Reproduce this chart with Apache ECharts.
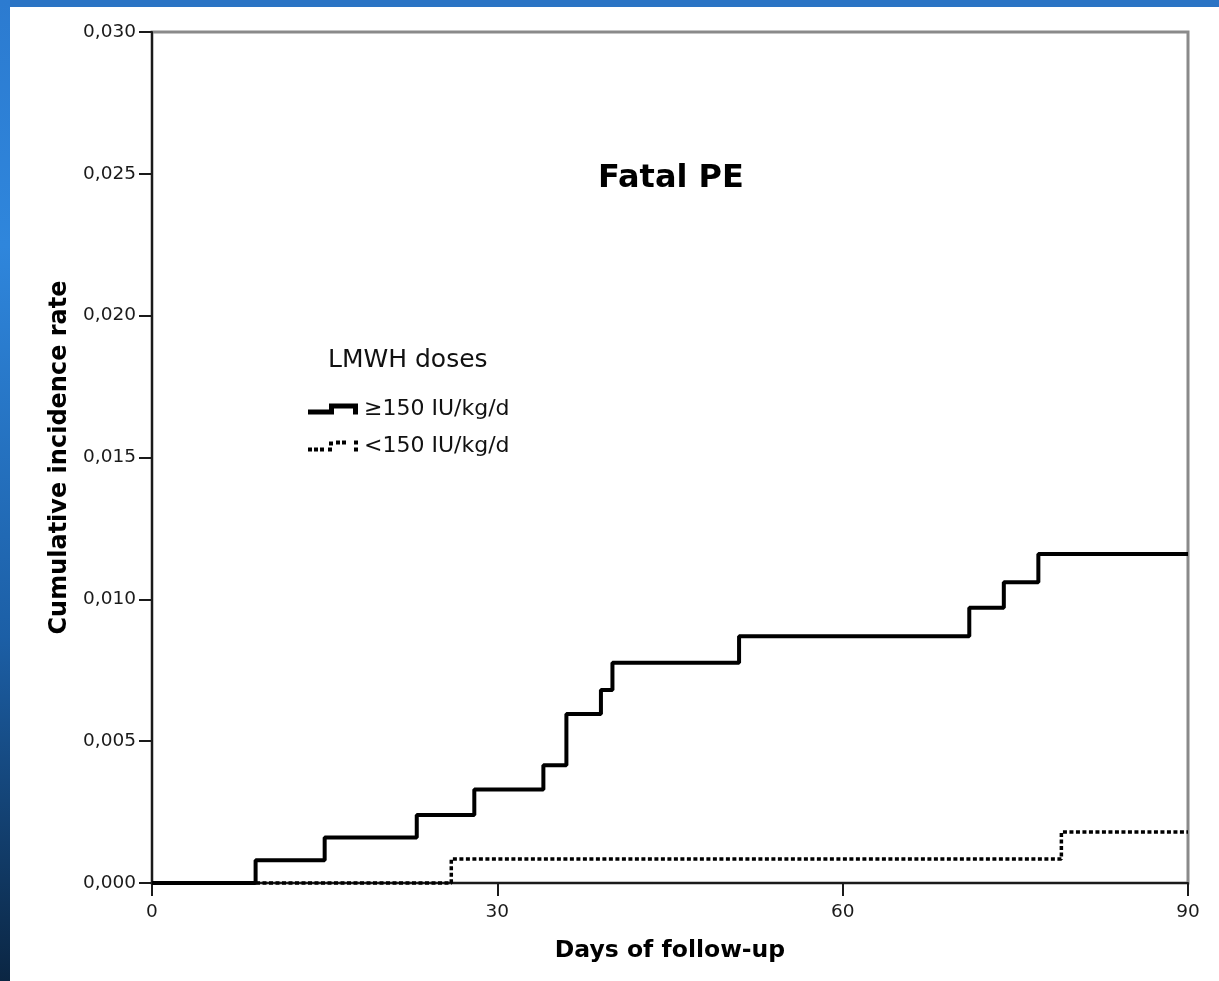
<!DOCTYPE html>
<html lang="en">
<head>
    <meta charset="UTF-8">
    <title>Fatal PE</title>
    <script src="https://cdn.jsdelivr.net/npm/echarts@6/dist/echarts.min.js"></script>
    <style>
        body { padding: 0; margin: 0; background: #fff; }
        #chart { position: absolute; left: 0; top: 0; width: 1219px; height: 981px; }
        .frame-top { position: absolute; left: 0; top: 0; width: 1219px; height: 7px; background: #2b74c4; }
        .frame-left { position: absolute; left: 0; top: 0; width: 10px; height: 981px;
            background: linear-gradient(to bottom, #2c7bd0 0%, #2f86dc 25%, #1c5fa6 65%, #0b2643 100%); }
    </style>
</head>
<body>
    <div id="chart"></div>
    <div class="frame-top"></div>
    <div class="frame-left"></div>

    <script>
        // days of follow-up where the step happens, and the rate after it
        const highDoseDays = [0, 9, 15, 23, 28, 34, 36, 39, 40, 51, 71, 74, 77, 90];
        const highDoseRates = [0, 0.0008, 0.0016, 0.0024, 0.0033, 0.00415, 0.00596, 0.0068, 0.00776, 0.0087, 0.0097, 0.0106, 0.0116, 0.0116];
        const lowDoseDays = [0, 26, 79, 90];
        const lowDoseRates = [0, 0.00085, 0.0018, 0.0018];

        const seriesNames = ['\u2265150 IU/kg/d', '<150 IU/kg/d'];
        const xTicks = [0, 30, 60, 90];

        const solidIcon = 'path://M0 6H21V0H50V11H45V5H26V11H0Z';
        const dottedIcon = 'path://M0 7h4v4h-4z M6 7h4v4h-4z M12 7h4v4h-4z M20 7h4v4h-4z M21 1h4v4h-4z M28 0h4v4h-4z M34 0h4v4h-4z M46 0h4v4h-4z M46 7h4v4h-4z';

        const pairs = (xs, ys) => xs.map((x, i) => [x, ys[i]]);
        const font = 'DejaVu Sans';

        const chart = echarts.init(document.getElementById('chart'));
        chart.setOption({
            animation: false,
            title: [
                { text: 'Fatal PE', left: 598, top: 163, padding: 0,
                  textStyle: { fontFamily: font, fontWeight: 'bold', fontSize: 32, color: '#000' } },
                { text: 'LMWH doses', left: 328, top: 348, padding: 0,
                  textStyle: { fontFamily: font, fontWeight: 'normal', fontSize: 25, color: '#111' } }
            ],
            legend: {
                orient: 'vertical', left: 308, top: 398, padding: 0,
                itemWidth: 50, itemHeight: 11, itemGap: 15,
                itemStyle: { borderWidth: 0 },
                textStyle: { fontFamily: font, fontSize: 22, color: '#111', padding: [0, 0, 0, 1] },
                data: [
                    { name: seriesNames[0], icon: solidIcon },
                    { name: seriesNames[1], icon: dottedIcon }
                ]
            },
            grid: {
                left: 152, right: 31, top: 32, bottom: 98,
                show: true, borderColor: '#8a8a8a', borderWidth: 3
            },
            xAxis: {
                type: 'value', min: xTicks[0], max: xTicks[xTicks.length - 1], interval: 30,
                name: 'Days of follow-up', nameLocation: 'middle', nameGap: 56,
                nameTextStyle: { fontFamily: font, fontWeight: 'bold', fontSize: 23.5, color: '#000' },
                axisLine: { lineStyle: { color: '#1a1a1a', width: 2 } },
                axisTick: { show: true, length: 13, lineStyle: { color: '#1a1a1a', width: 2 } },
                axisLabel: { margin: 20, fontFamily: font, fontSize: 18.5, color: '#1a1a1a' },
                splitLine: { show: false }
            },
            yAxis: {
                type: 'value', min: 0, max: 0.03, interval: 0.005,
                name: 'Cumulative incidence rate', nameLocation: 'middle', nameGap: 74,
                nameTextStyle: { fontFamily: font, fontWeight: 'bold', fontSize: 24, color: '#000' },
                axisLine: { show: true, lineStyle: { color: '#1a1a1a', width: 2 } },
                axisTick: { show: true, length: 13, lineStyle: { color: '#1a1a1a', width: 2 } },
                axisLabel: {
                    margin: 16, fontFamily: font, fontSize: 18.5, color: '#1a1a1a',
                    formatter: v => v.toFixed(3).replace('.', ',')
                },
                splitLine: { show: false }
            },
            series: [
                {
                    name: seriesNames[0], type: 'line', step: 'end', symbol: 'none', clip: false,
                    data: pairs(highDoseDays, highDoseRates),
                    itemStyle: { color: '#000' },
                    lineStyle: { color: '#000', width: 4 }
                },
                {
                    name: seriesNames[1], type: 'line', step: 'end', symbol: 'none', clip: false,
                    data: pairs(lowDoseDays, lowDoseRates),
                    itemStyle: { color: '#000' },
                    lineStyle: { color: '#000', width: 3.5, type: [4, 2.5] }
                }
            ]
        });
    </script>
</body>
</html>
